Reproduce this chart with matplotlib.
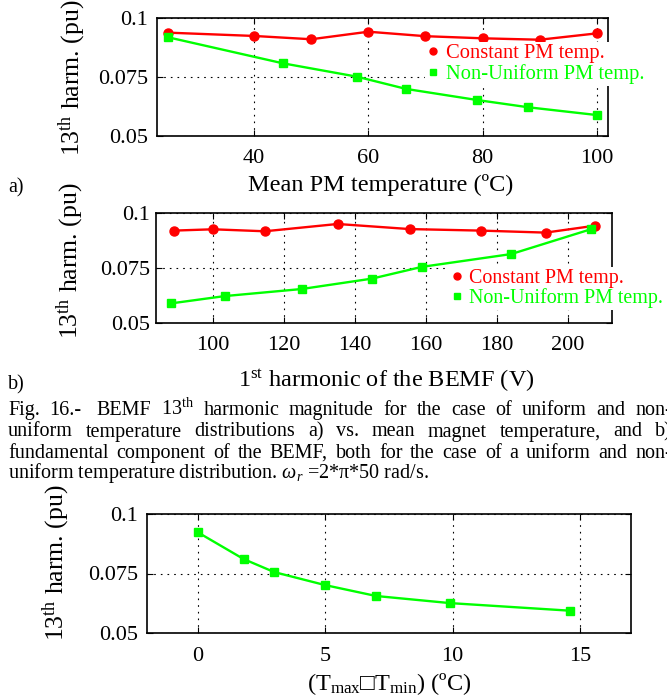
import matplotlib
matplotlib.use('Agg')
import matplotlib.pyplot as plt
from matplotlib.lines import Line2D

plt.rcParams['font.family'] = ['Liberation Serif', 'DejaVu Sans']
plt.rcParams['mathtext.fontset'] = 'custom'
plt.rcParams['mathtext.rm'] = 'Liberation Serif'
plt.rcParams['mathtext.it'] = 'Liberation Serif:italic'
plt.rcParams['mathtext.fallback'] = 'stix'

# a) vs mean PM temperature
temp_const = [25, 40, 50, 60, 70, 80, 90, 100]
harm_const_a = [0.0939, 0.0925, 0.0911, 0.0943, 0.0924, 0.0915, 0.0909, 0.0936]
temp_nonuni = [25, 45, 58, 66.6, 79, 88, 100]
harm_nonuni_a = [0.0919, 0.0809, 0.0752, 0.0700, 0.0653, 0.0622, 0.0589]

# b) vs 1st harmonic of the BEMF
bemf_const = [88.9, 100, 114.6, 135.1, 155.4, 175.6, 193.7, 207.5]
harm_const_b = [0.0919, 0.0925, 0.0916, 0.0949, 0.0926, 0.0919, 0.0910, 0.0941]
bemf_nonuni = [88.2, 103.3, 125, 144.8, 158.8, 184, 206.6]
harm_nonuni_b = [0.0590, 0.0623, 0.0655, 0.0702, 0.0755, 0.0813, 0.0926]

# c) vs (Tmax - Tmin)
dtemp = [0, 1.8, 3, 5, 7, 9.9, 14.6]
harm_dtemp = [0.0924, 0.0811, 0.0756, 0.0701, 0.0655, 0.0625, 0.0593]

labels = ['Constant PM temp.', 'Non-Uniform PM temp.']
yticks = [0.05, 0.075, 0.1]
ytick_labels = ['0.05', '0.075', '0.1']
ylab = '13$^{\\rm th}$ harm. (pu)'

W, H = 667, 700
fig = plt.figure(figsize=(W / 100, H / 100), dpi=100)
RED, GREEN = '#ff0000', '#00ff00'


def px_axes(l, t, r, b):
    return fig.add_axes([l / W, 1 - b / H, (r - l) / W, (b - t) / H])


def style(ax, xlim, xticks, xpad, ypad):
    ax.set_xlim(xlim)
    ax.set_ylim(0.05, 0.1)
    ax.set_xticks(xticks)
    ax.set_yticks(yticks)
    ax.set_yticklabels(ytick_labels)
    ax.grid(True, color='k', ls=(0, (1.5, 4.5)), lw=0.8)
    ax.tick_params(direction='in', top=True, right=True, length=4, labelsize=16)
    ax.tick_params(axis='x', pad=xpad)
    ax.tick_params(axis='y', pad=ypad)
    for s in ax.spines.values():
        s.set_linewidth(1.2)


def add_legend(ax, x, y, fs):
    hs = [Line2D([], [], color=RED, marker='o', ls='none', ms=5),
          Line2D([], [], color=GREEN, marker='s', ls='none', ms=4.5)]
    leg = ax.legend(hs, labels, loc='upper left', bbox_to_anchor=(x / W, 1 - y / H),
                    bbox_transform=fig.transFigure, frameon=True, facecolor='white',
                    edgecolor='none', framealpha=1, fancybox=False, fontsize=fs,
                    handlelength=0.6, handletextpad=0.3, labelspacing=0.02,
                    borderpad=0.1, borderaxespad=0)
    for t, c in zip(leg.get_texts(), [RED, GREEN]):
        t.set_color(c)


# a)
ax1 = px_axes(157, 18.3, 608.3, 136)
ax1.plot(temp_const, harm_const_a, color=RED, lw=1.7, marker='o', ms=6.5)
ax1.plot(temp_nonuni, harm_nonuni_a, color=GREEN, lw=1.7, marker='s', ms=6)
style(ax1, (23, 102), [40, 60, 80, 100], 9.5, 6.5)
add_legend(ax1, 425, 42, 14.8)

# b)
ax2 = px_axes(156.1, 212.7, 611.7, 323.3)
ax2.plot(bemf_const, harm_const_b, color=RED, lw=1.7, marker='o', ms=6.5)
ax2.plot(bemf_nonuni, harm_nonuni_b, color=GREEN, lw=1.7, marker='s', ms=6)
style(ax2, (84, 212.3), [100, 120, 140, 160, 180, 200], 9.5, 4.5)
add_legend(ax2, 449, 267, 14.4)

# c)
ax3 = px_axes(146.8, 514.3, 630.9, 632.7)
ax3.plot(dtemp, harm_dtemp, color=GREEN, lw=1.7, marker='s', ms=6)
style(ax3, (-2, 17), [0, 5, 10, 15], 10.5, 6)


def ftext(x, y, s, **kw):
    return fig.text(x / W, 1 - y / H, s, **kw)


# axis labels
ftext(72, 77.5, ylab, rotation=90, ha='center', va='center', fontsize=18.5)
ftext(70, 260.5, ylab, rotation=90, ha='center', va='center', fontsize=18.5)
ftext(56, 562.5, ylab, rotation=90, ha='center', va='center', fontsize=18.5)
ftext(381, 191.5, 'Mean PM temperature (ºC)', ha='center', va='baseline', fontsize=17.5)
ftext(386, 387, '1$^{\\rm st}$ harmonic of the BEMF (V)', ha='center', va='baseline', fontsize=17.5)
ftext(389, 690, '(T$_{\\rm max}$□T$_{\\rm min}$) (ºC)', ha='center', va='baseline', fontsize=17.5)
ftext(8, 192, 'a)', ha='left', va='baseline', fontsize=14.5)
ftext(8, 389, 'b)', ha='left', va='baseline', fontsize=14.5)

# caption, justified line by line (the page is cropped a little past the right margin)
renderer = fig.canvas.get_renderer()
CAP_FS = 14.5


def place_words(words, y):
    ts = [ftext(0, y, w, ha='left', va='baseline', fontsize=CAP_FS) for w in words]
    widths = [t.get_window_extent(renderer).width for t in ts]
    return ts, widths


def justify(ts, widths, x0, x1, weights):
    gap = (x1 - x0 - sum(widths)) / sum(weights)
    x = x0
    for i, t in enumerate(ts):
        t.set_x(x / W)
        x += widths[i]
        if i < len(weights):
            x += gap * weights[i]


line1 = ['Fig.', '16.-', 'BEMF', '13$^{\\rm th}$', 'harmonic', 'magnitude', 'for', 'the',
         'case', 'of', 'uniform', 'and', 'non-']
line2 = 'uniform temperature distributions a) vs. mean magnet temperature, and b)'.split()
line3 = 'fundamental component of the BEMF, both for the case of a uniform and non-'.split()

x0, x_right = 8.0, 672.0

t1, w1 = place_words(line1, 415)
g1 = [1] * (len(line1) - 1)
g1[1] = 1.5
justify(t1, w1, x0, x_right, g1)

t2, w2 = place_words(line2, 436.5)
justify(t2, w2, x0, x_right, [1] * (len(line2) - 1))

t3, w3 = place_words(line3, 458)
justify(t3, w3, x0, x_right, [1] * (len(line3) - 1))

ftext(x0, 478, 'uniform temperature distribution. $\\omega_r$ =2*π*50 rad/s.',
      ha='left', va='baseline', fontsize=CAP_FS)

fig.savefig('out.png', dpi=100)
